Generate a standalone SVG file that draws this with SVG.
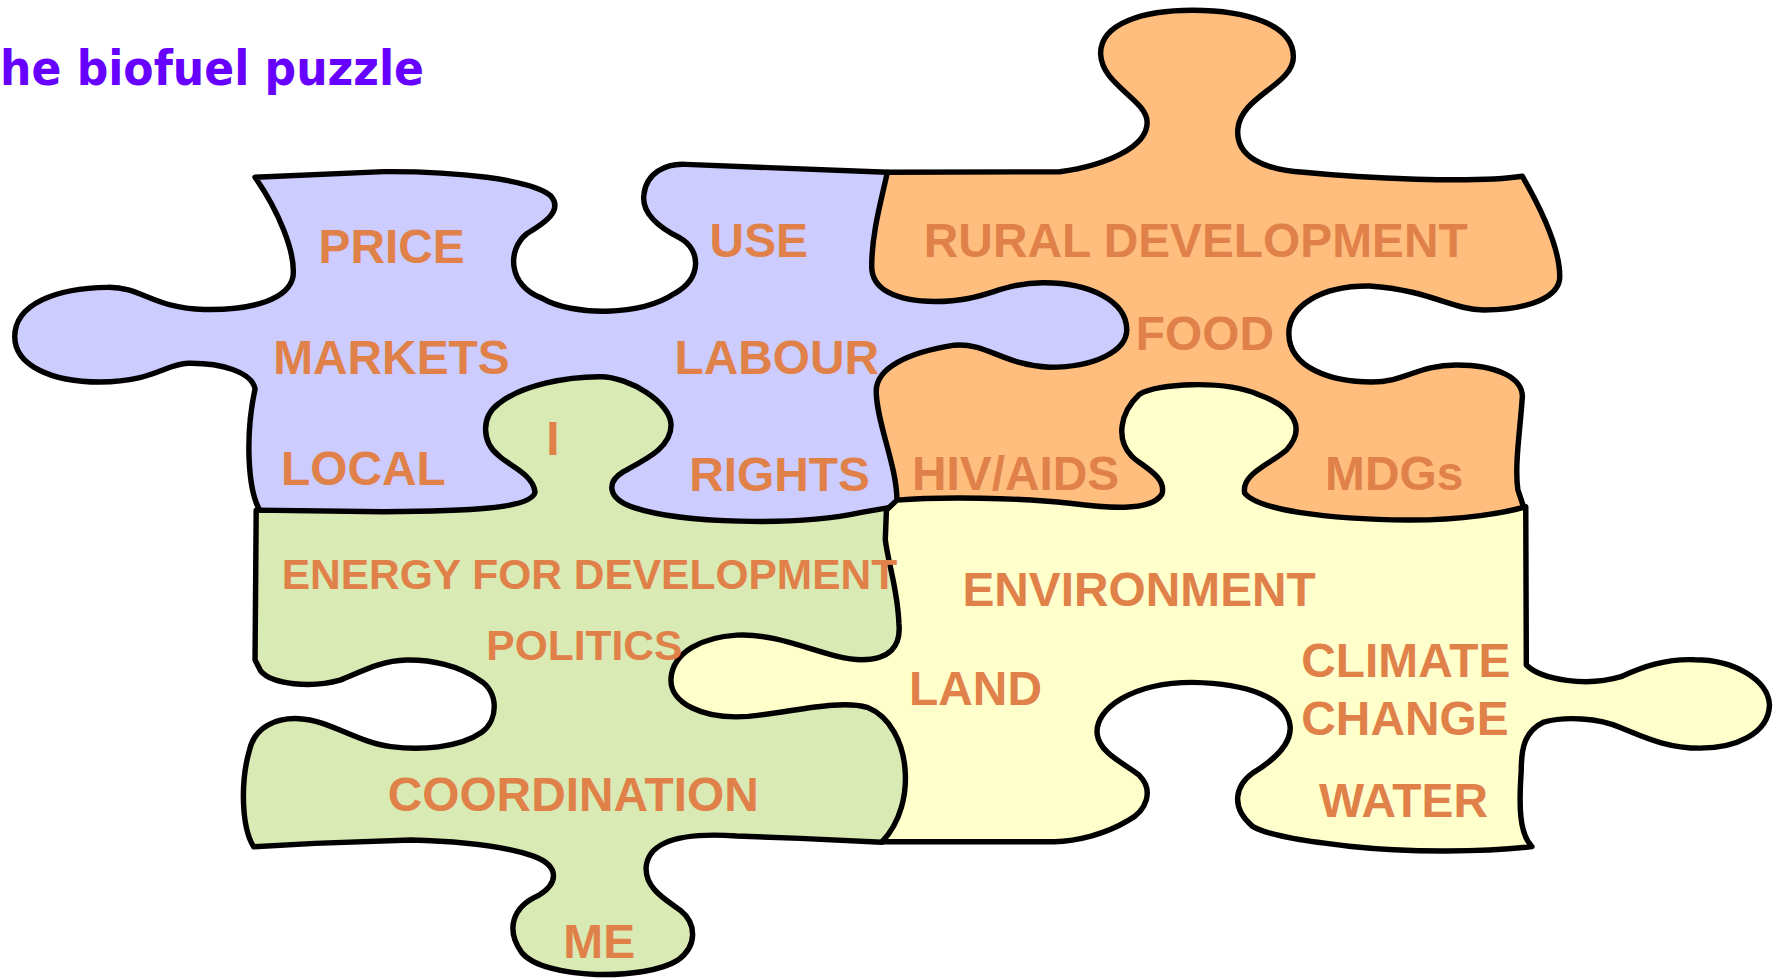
<svg xmlns="http://www.w3.org/2000/svg" width="1774" height="980" viewBox="0 0 1774 980">
<style>
.piece{stroke:#000;stroke-width:4.8;stroke-linejoin:round;stroke-linecap:round}
.blue{fill:#CCCCFF}.orange{fill:#FFBE7E}.green{fill:#D9EAB4}.yellow{fill:#FFFFCC}
.lbl{font-family:"Liberation Sans",Arial,sans-serif;font-weight:bold;font-size:42.2px;fill:#E0814A}
.sm{font-size:37.5px}
.title{font-family:"DejaVu Sans",Verdana,sans-serif;font-weight:bold;font-size:43px;fill:#6600FF}
</style>
<rect width="1774" height="980" fill="#FFFFFF"/>
<g transform="scale(1.13355)">
<text class="title" x="0" y="75" textLength="374" lengthAdjust="spacingAndGlyphs">he biofuel puzzle</text>
<g id="piece-blue">
<path class="piece blue" d="M228,448 C219,430 216,385 225,343 C222,328 195,320 166,320.5 C146,321 135,337 88,337 C45,337 13,322 13,297 C13,268 50,254 95,253.5 C125,253 135,272 180,273 C225,274 255,263 258.5,244 C261,222 245,185 225,156.4 L338.5,151.4 C400,151 470,158 486,173 C497,186 480,197 465,206 C447,220 448,252 478,263 C505,279 565,279 595,259 C620,245 618,220 600,210 C580,200 566,188 568,172 C570,152 588,144 605,145 L782.8,152 L820,168 L1008,170 L1008,440 L800,472 L240,470 Z"/>
</g>
<g id="piece-orange">
<path class="piece orange" d="M782.8,152 L935,151.5 C975,146 1012,130 1012,108 C1012,88 972,75 971,48 C970,20 1010,9 1052,9 C1100,9 1141,22 1141,50 C1141,75 1094,85 1092,114 C1090,138 1115,150 1150,152 C1200,157 1300,162 1343,155.5 C1360,185 1376,220 1376,244 C1376,262 1350,273 1309,273.5 C1280,273 1262,256 1208,252.3 C1165,252 1137,270 1137,294 C1137,325 1175,337 1210,337 C1240,337 1250,322 1285,322 C1320,322 1343,333 1343,350 C1341,380 1336,410 1339,432 L1344,447 L1335,478 L820,478 L802,447 L791.3,441 C791,410 773,372 773,345 C773,325 800,311 842,304.5 C870,302 885,322 926,324 C965,324 994,310 994,291 C994,265 960,249 920,249.4 C880,250 870,266 825,266 C790,266 769,255 769,235 C769,205 778,175 782.8,152 Z"/>
</g>
<g id="piece-green">
<path class="piece green" d="M226,450 L338.5,451.4 C410,451 470,449 472,434 C470,418 448,410 440,402 C425,390 424,368 440,356 C460,340 500,332 530,332.3 C555,332.5 592,355 592,375 C592,395 570,405 550,416 C535,425 535,440 560,448 C600,461 700,465 760,452 L783,448 L815,480 L815,730 L778,743 L705.8,739.6 L650,737.5 C600,734 572,742 570,765 C569,785 590,795 600,803 C615,815 615,835 598,847 C570,865 480,865 460,840 C446,820 452,800 475,790 C492,780 495,764 470,755 C440,745 400,742 362.6,741.1 L277.9,744 L223.8,747 C213,730 212,690 220,662 C225,640 245,633 264,634 C290,635 315,655 345,658.7 C370,662 405,660 425,646 C440,635 440,610 423,600 C405,587 380,582 358.8,582.3 C335,583 320,592 300,600 C275,607 240,604 230,592 L225,582.3 Z"/>
</g>
<g id="piece-yellow">
<path class="piece yellow" d="M782,450 L791.3,441.2 C830,438 900,439 943.6,444 C975,448 1015,452 1025,436 C1030,420 1005,410 998,402 C985,388 987,365 1005,348 C1020,338 1080,335 1110,348 C1143,360 1152,378 1135,397 C1120,410 1095,418 1098,435 C1110,450 1170,458 1242,458.8 C1290,459 1330,452 1346,447 L1346.5,586.7 C1360,600 1400,606 1430,597 C1450,588 1470,581 1495,582 C1530,582 1560,600 1561,622 C1560,648 1530,660 1500,660 C1470,660 1450,650 1430,642 C1410,633 1380,632 1362,637 C1345,645 1342,660 1342,680 C1340,710 1340,735 1351.4,746.9 C1310,752 1240,752 1190,746.5 C1160,743 1120,738 1105,729 C1085,712 1090,693 1105,682 C1125,670 1140,655 1138,640 C1135,615 1100,603 1052,602 C1000,602 965,625 968,648 C970,665 995,675 1005,684 C1018,697 1012,715 995,724 C975,736 950,742 930,742.5 L778.2,742.5 C795,725 800,700 798.5,680 C797,655 785,632 765,624 C740,617 700,628 660,632 C620,635 590,620 592,598 C594,575 620,562 650,560.3 C690,558 730,582 760,582 C785,582 795,570 793,550 C792,520 783,495 781,476 Z"/>
</g>
<g id="labels">
<text class="lbl" x="281" y="232">PRICE</text>
<text class="lbl" x="626" y="227">USE</text>
<text class="lbl" x="815" y="227">RURAL DEVELOPMENT</text>
<text class="lbl" x="241" y="330">MARKETS</text>
<text class="lbl" x="595" y="330">LABOUR</text>
<text class="lbl" x="1002" y="309">FOOD</text>
<text class="lbl" x="248" y="428">LOCAL</text>
<text class="lbl" x="482" y="401">I</text>
<text class="lbl" x="608" y="433">RIGHTS</text>
<text class="lbl" x="804.5" y="432">HIV/AIDS</text>
<text class="lbl" x="1169" y="432">MDGs</text>
<text class="lbl sm" x="248.5" y="520">ENERGY FOR DEVELOPMENT</text>
<text class="lbl sm" x="429" y="582">POLITICS</text>
<text class="lbl" x="849" y="535">ENVIRONMENT</text>
<text class="lbl" x="802" y="622">LAND</text>
<text class="lbl" x="1148" y="597">CLIMATE</text>
<text class="lbl" x="1148" y="648">CHANGE</text>
<text class="lbl" x="1163.5" y="721">WATER</text>
<text class="lbl" x="342" y="715.5">COORDINATION</text>
<text class="lbl" x="497" y="845">ME</text>
</g>
</g>
</svg>
